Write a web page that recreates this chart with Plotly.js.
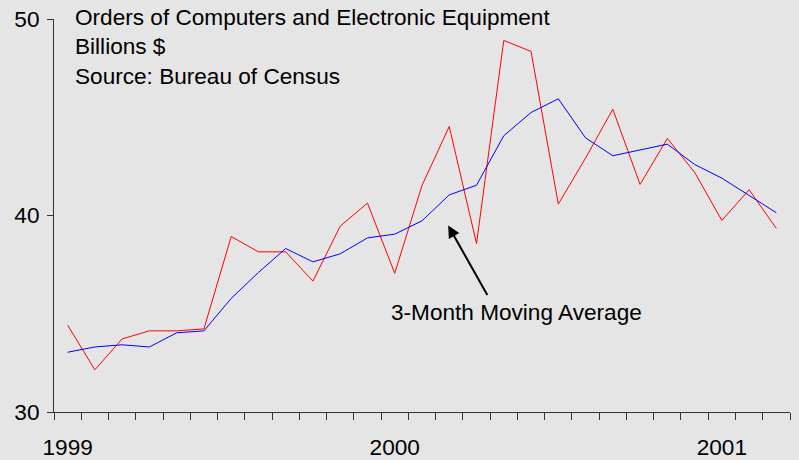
<!DOCTYPE html>
<html>
<head>
<meta charset="utf-8">
<script src="https://cdn.plot.ly/plotly-3.0.1.min.js"></script>
<style>
  html, body { margin: 0; padding: 0; background: #e5e5e5; }
  #chart { width: 799px; height: 460px; }
</style>
</head>
<body>
<div id="chart"></div>
<script>
// Months (one point per month, plotted at mid-month)
const months = [
  '1999-01','1999-02','1999-03','1999-04','1999-05','1999-06',
  '1999-07','1999-08','1999-09','1999-10','1999-11','1999-12',
  '2000-01','2000-02','2000-03','2000-04','2000-05','2000-06',
  '2000-07','2000-08','2000-09','2000-10','2000-11','2000-12',
  '2001-01','2001-02','2001-03'
];

// Monthly orders, billions $ (red)
const orders = [
  34.42, 32.15, 33.72, 34.13, 34.13, 34.23,
  38.93, 38.15, 38.15, 36.66, 39.46, 40.63,
  37.06, 41.53, 44.53, 38.57, 48.91, 48.35,
  40.58, 42.92, 45.41, 41.58, 43.92, 42.20,
  39.75, 41.31, 39.34
];

// 3-month moving average (blue)
const movingAvg = [
  33.04, 33.31, 33.42, 33.31, 34.03, 34.13,
  35.78, 37.10, 38.32, 37.64, 38.05, 38.86,
  39.05, 39.73, 41.05, 41.54, 44.06, 45.24,
  45.94, 43.95, 43.04, 43.32, 43.63, 42.60,
  41.90, 41.02, 40.14
];

const yTicks = [30, 40, 50];
const titleLines = ['Orders of Computers and Electronic Equipment', 'Billions $', 'Source: Bureau of Census'];
const annotationText = '3-Month Moving Average';

// month index positions (mid-month)
const xPos = months.map((m, i) => i + 0.5);
const yearVals = [], yearText = [];
months.forEach((m, i) => {
  if (m.endsWith('-01')) { yearVals.push(i + 0.5); yearText.push(m.slice(0, 4)); }
});

const FONT = 'Liberation Sans, Arial, Helvetica, sans-serif';
const FS = 22.6;
const AXC = '#333333';

const traces = [
  {
    x: xPos, y: orders, type: 'scatter', mode: 'lines',
    line: { color: '#ff0000', width: 1 }, name: 'Orders', hoverinfo: 'skip'
  },
  {
    x: xPos, y: movingAvg, type: 'scatter', mode: 'lines',
    line: { color: '#0000ff', width: 1 }, name: '3-Month Moving Average', hoverinfo: 'skip'
  }
];

const layout = {
  width: 799, height: 460,
  paper_bgcolor: '#e5e5e5', plot_bgcolor: '#e5e5e5',
  margin: { l: 54, r: 9, t: 19, b: 48 },
  showlegend: false,
  font: { family: FONT, size: FS, color: '#000000' },
  title: {
    text: titleLines.join('<br>'),
    x: 75 / 799, xref: 'container', xanchor: 'left',
    y: 1 - 25 / 460, yref: 'container', yanchor: 'top',
    font: { family: FONT, size: FS, color: '#000000' }
  },
  xaxis: {
    range: [0, months.length],
    showgrid: false, zeroline: false,
    showline: true, linecolor: AXC, linewidth: 1,
    tickmode: 'array', tickvals: yearVals, ticktext: yearText,
    ticks: '', ticklabelstandoff: 15,
    tickfont: { family: FONT, size: FS, color: '#000000' },
    minor: { ticks: 'outside', tickmode: 'linear', tick0: 0, dtick: 1, ticklen: 7, tickcolor: AXC, tickwidth: 1, showgrid: false }
  },
  yaxis: {
    range: [30, 50],
    showgrid: false, zeroline: false,
    showline: true, linecolor: AXC, linewidth: 1,
    tickmode: 'array', tickvals: yTicks, ticktext: yTicks.map(String),
    ticks: 'outside', ticklen: 6, tickcolor: AXC, tickwidth: 1,
    ticklabelstandoff: 3,
    tickfont: { family: FONT, size: FS, color: '#000000' }
  },
  annotations: [
    {
      // arrow only
      x: 14.46, y: 39.49, xref: 'x', yref: 'y',
      ax: 40, ay: 71, axref: 'pixel', ayref: 'pixel',
      text: '', showarrow: true,
      arrowhead: 2, arrowsize: 1.2, arrowwidth: 2, arrowcolor: '#000000'
    },
    {
      x: 16.95, y: 35.06, xref: 'x', yref: 'y',
      text: annotationText, showarrow: false,
      xanchor: 'center', yanchor: 'middle',
      font: { family: FONT, size: FS, color: '#000000' }
    }
  ]
};

Plotly.newPlot('chart', traces, layout, { displayModeBar: false, staticPlot: true });
</script>
</body>
</html>
